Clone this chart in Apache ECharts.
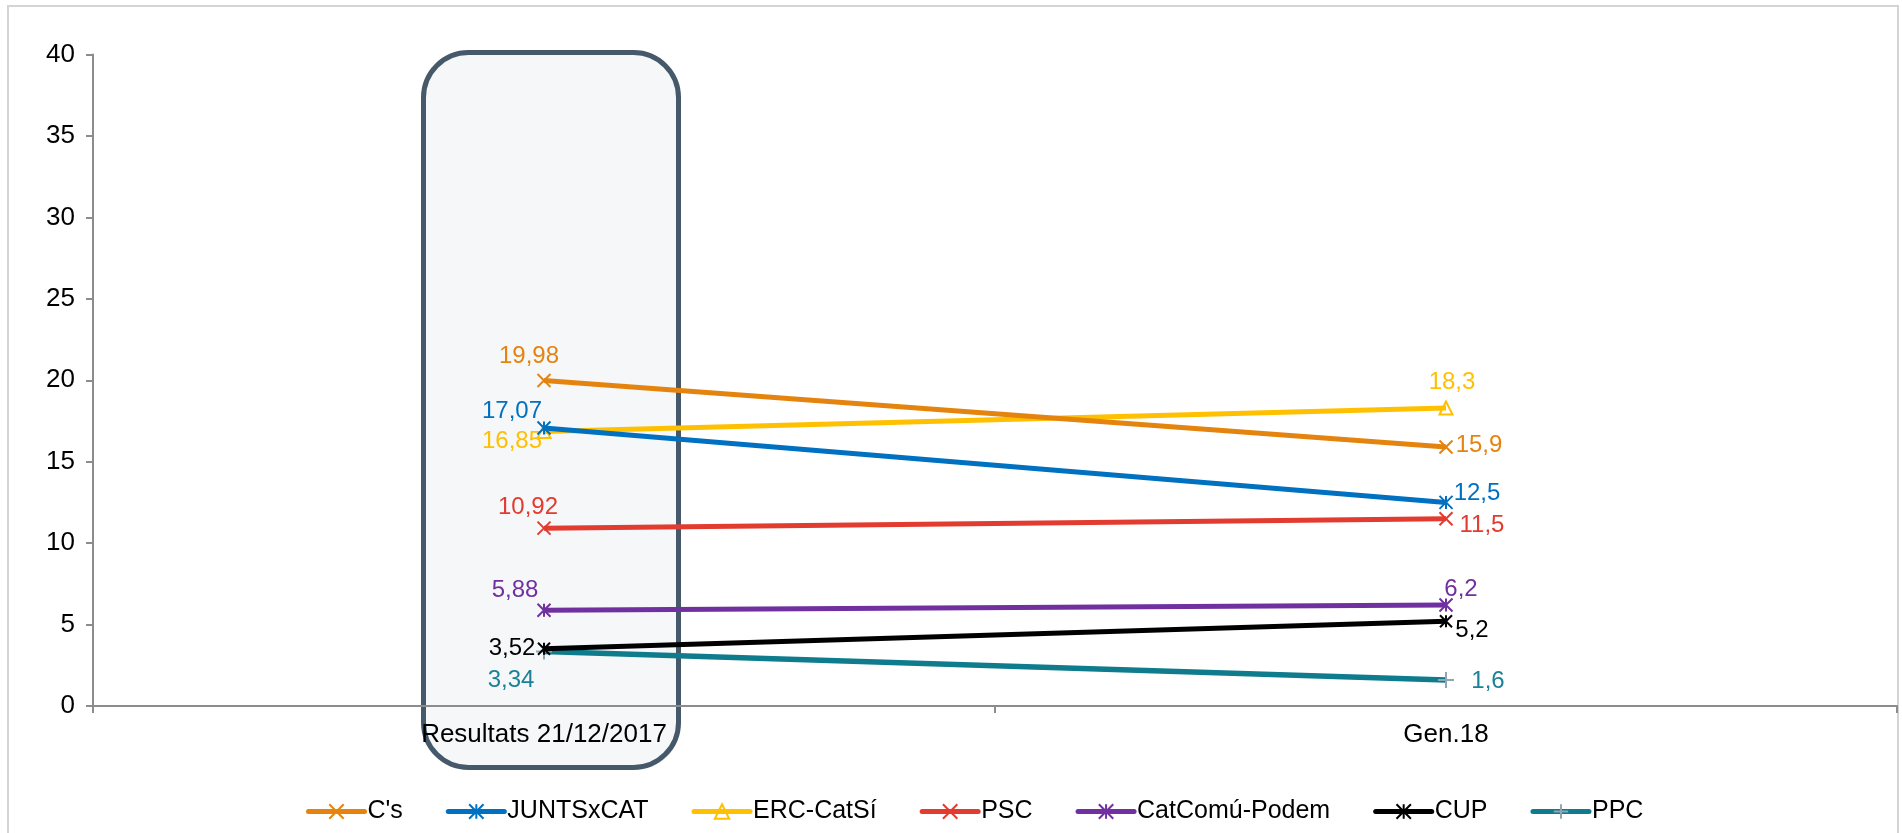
<!DOCTYPE html>
<html>
<head>
<meta charset="utf-8">
<script src="https://cdn.jsdelivr.net/npm/echarts@6/dist/echarts.min.js"></script>
<style>
html,body{margin:0;padding:0;background:#fff;}
#c{width:1902px;height:833px;}
</style>
</head>
<body>
<div id="c"></div>
<script>
// ---- data ----
const categories = ['Resultats 21/12/2017', 'Gen.18'];
const seriesNames = ["C's", 'JUNTSxCAT', 'ERC-CatSí', 'PSC', 'CatComú-Podem', 'CUP', 'PPC'];
const csValues = [19.98, 15.9];
const juntsValues = [17.07, 12.5];
const ercValues = [16.85, 18.3];
const pscValues = [10.92, 11.5];
const comuValues = [5.88, 6.2];
const cupValues = [3.52, 5.2];
const ppcValues = [3.34, 1.6];
const yTicks = [0, 5, 10, 15, 20, 25, 30, 35, 40];

// ---- styling ----
const FONT = '"Liberation Sans", Arial, sans-serif';
const X_SYM = 'path://M0,0L10,10M10,0L0,10';
const AST_SYM = 'path://M0,0L10,10M10,0L0,10M5,0L5,10';
const TRI_SYM = 'path://M5,0L10,10L0,10Z';
const PLUS_SYM = 'path://M5,0L5,10M0,5L10,5';

const styles = [
  {color:'#E4840F', sym:X_SYM, size:13, fill:'transparent', mk:'#E4840F', lw:5, offs:[[-15,-24],[33,-2]]},
  {color:'#0070C0', sym:AST_SYM, size:13, fill:'transparent', mk:'#0070C0', lw:5, offs:[[-32,-17],[31,-9]]},
  {color:'#FFC000', sym:TRI_SYM, size:13, fill:'rgba(255,255,255,0)', mk:'#FFC000', lw:5, offs:[[-32,10],[6,-26]]},
  {color:'#E23B2F', sym:X_SYM, size:13, fill:'transparent', mk:'#E23B2F', lw:5, offs:[[-16,-21],[36,7]]},
  {color:'#7030A0', sym:AST_SYM, size:13, fill:'transparent', mk:'#7030A0', lw:5, offs:[[-29,-20],[15,-16]]},
  {color:'#000000', sym:AST_SYM, size:12, fill:'transparent', mk:'#000000', lw:5, offs:[[-32,0],[26,9]]},
  {color:'#0E7C8C', sym:PLUS_SYM, size:16, fill:'transparent', mk:'#8FA6B3', lw:5.5, offs:[[-33,29],[42,1]], lbl:'#1A8296'}
];
const allValues = [csValues, juntsValues, ercValues, pscValues, comuValues, cupValues, ppcValues];

function fmt(v){ return String(v).replace('.', ','); }

const series = seriesNames.map((name, i) => {
  const s = styles[i];
  return {
    name: name,
    type: 'line',
    data: allValues[i].map((v, j) => ({
      value: v,
      label: {offset: s.offs[j]}
    })),
    symbol: s.sym,
    symbolSize: s.size,
    showAllSymbol: true,
    lineStyle: {color: s.color, width: s.lw},
    itemStyle: {color: s.fill, borderColor: s.mk, borderWidth: 2},
    emphasis: {disabled: true},
    z: 3 + (7 - i),
    label: {
      show: true,
      position: 'inside',
      align: 'center',
      verticalAlign: 'middle',
      color: s.lbl || s.color,
      fontFamily: FONT,
      fontSize: 24,
      formatter: p => fmt(p.value)
    },
    animation: false
  };
});

const chart = echarts.init(document.getElementById('c'), null, {renderer: 'canvas'});
chart.setOption({
  backgroundColor: '#ffffff',
  animation: false,
  grid: {left: 93, right: 5, top: 54.5, bottom: 127, containLabel: false, outerBoundsMode: 'none'},
  xAxis: {
    type: 'category',
    data: categories,
    boundaryGap: true,
    axisLine: {lineStyle: {color: '#8c8c8c', width: 2}},
    axisTick: {show: true, length: 7, lineStyle: {color: '#8c8c8c', width: 2}},
    axisLabel: {color: '#000', fontFamily: FONT, fontSize: 26, margin: 16},
    splitLine: {show: false}
  },
  yAxis: {
    type: 'value',
    min: yTicks[0],
    max: yTicks[yTicks.length - 1],
    interval: yTicks[1] - yTicks[0],
    axisLine: {show: true, lineStyle: {color: '#8c8c8c', width: 2}},
    axisTick: {show: true, length: 7, lineStyle: {color: '#8c8c8c', width: 2}},
    axisLabel: {color: '#000', fontFamily: FONT, fontSize: 26, margin: 18},
    splitLine: {show: false}
  },
  legend: {
    data: seriesNames,
    left: 301,
    top: 794,
    itemGap: 43,
    itemWidth: 56,
    itemHeight: 18,
    selectedMode: false,
    lineStyle: {width: 5, cap: 'round'},
    textStyle: {color: '#000', fontFamily: FONT, fontSize: 25, padding: [0, 0, 0, -2]}
  },
  series: series
});

// decorative highlight box around the first category and outer frame
const cx = chart.convertToPixel({xAxisIndex: 0}, categories[0]);
const yTop = chart.convertToPixel({yAxisIndex: 0}, yTicks[yTicks.length - 1]);
const boxW = 255;
chart.setOption({
  graphic: [
    {
      type: 'rect', z: -10, silent: true,
      shape: {x: cx + 7 - boxW / 2, y: yTop - 2, width: boxW, height: 715, r: 45},
      style: {fill: '#f5f7f9', stroke: '#45596a', lineWidth: 5}
    },
    {
      type: 'rect', z: -20, silent: true,
      shape: {x: 8, y: 6, width: 1890, height: 840},
      style: {fill: 'none', stroke: '#d4d4d4', lineWidth: 2}
    }
  ]
});
</script>
</body>
</html>
